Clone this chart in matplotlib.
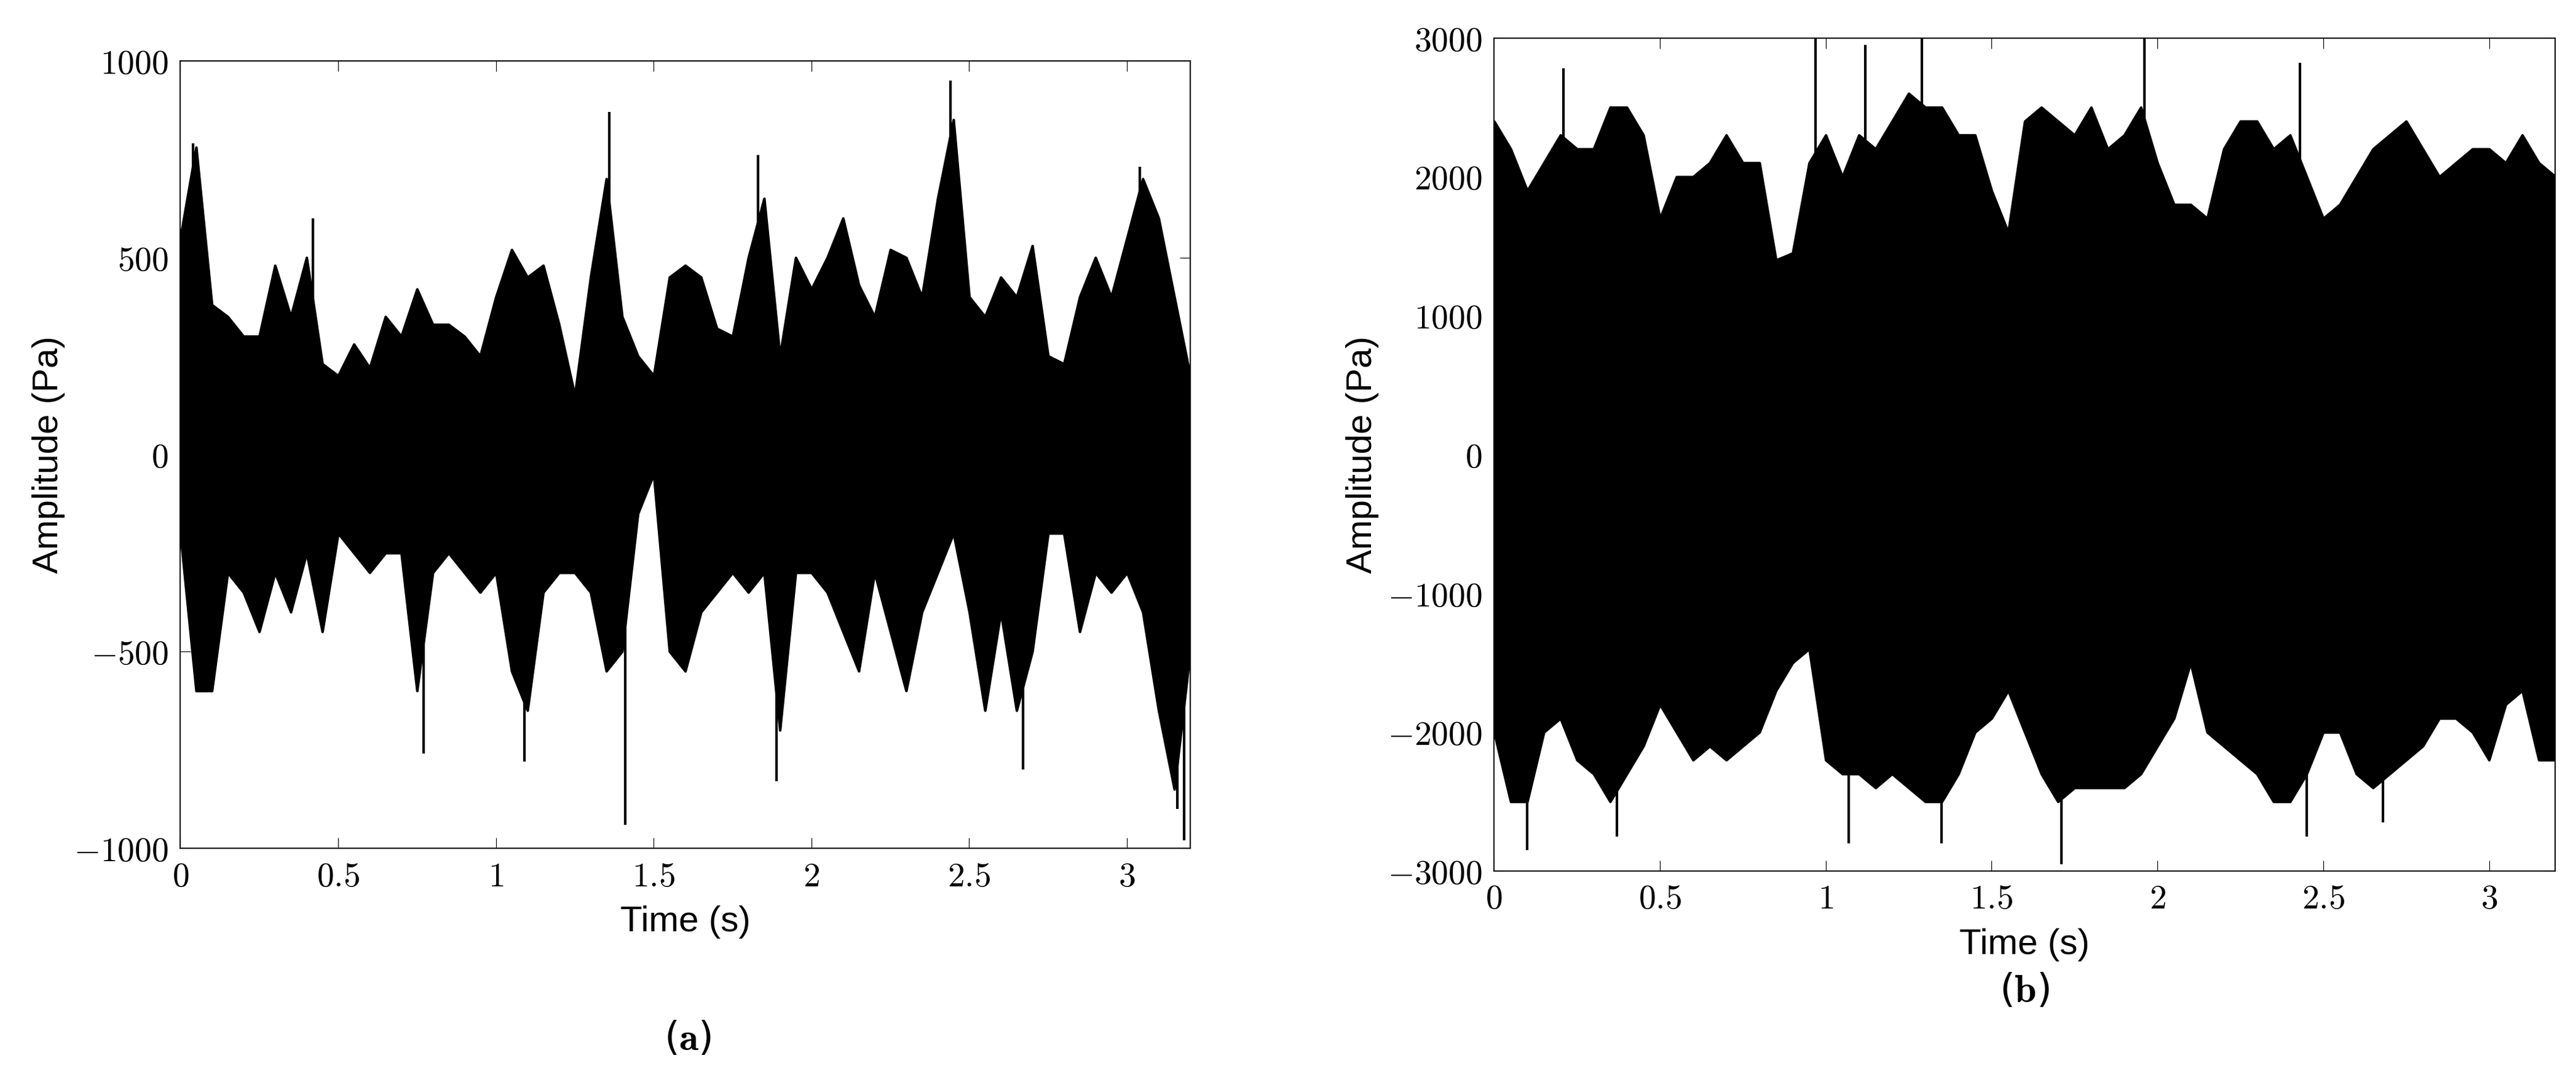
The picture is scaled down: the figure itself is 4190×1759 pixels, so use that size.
import numpy as np
import matplotlib
matplotlib.use("Agg")
import matplotlib.pyplot as plt

plt.rcParams["mathtext.fontset"] = "cm"

# envelope samples every 0.05 s
t = np.arange(0, 3.2001, 0.05)

a_upper = [550, 780, 380, 350, 300, 300, 480, 350, 500, 230, 200, 280, 220, 350, 300, 420,
           330, 330, 300, 250, 400, 520, 450, 480, 330, 150, 450, 700, 350, 250, 200, 450,
           480, 450, 320, 300, 500, 650, 250, 500, 420, 500, 600, 430, 350, 520, 500, 400,
           650, 850, 400, 350, 450, 400, 530, 250, 230, 400, 500, 400, 550, 700, 600, 400, 200]
a_lower = [-200, -600, -600, -300, -350, -450, -300, -400, -250, -450, -200, -250, -300, -250,
           -250, -600, -300, -250, -300, -350, -300, -550, -650, -350, -300, -300, -350, -550,
           -500, -150, -50, -500, -550, -400, -350, -300, -350, -300, -700, -300, -300, -350,
           -450, -550, -300, -450, -600, -400, -300, -200, -400, -650, -400, -650, -500, -200,
           -200, -450, -300, -350, -300, -400, -650, -850, -500]
a_spike_t = [0.04, 0.42, 1.36, 1.83, 2.44, 3.04, 0.77, 1.09, 1.41, 1.89, 2.67, 3.16, 3.18]
a_spike_v = [790, 600, 870, 760, 950, 730, -760, -780, -940, -830, -800, -900, -980]

b_upper = [2400, 2200, 1900, 2100, 2300, 2200, 2200, 2500, 2500, 2300, 1700, 2000, 2000, 2100,
           2300, 2100, 2100, 1400, 1450, 2100, 2300, 2000, 2300, 2200, 2400, 2600, 2500, 2500,
           2300, 2300, 1900, 1600, 2400, 2500, 2400, 2300, 2500, 2200, 2300, 2500, 2100, 1800,
           1800, 1700, 2200, 2400, 2400, 2200, 2300, 2000, 1700, 1800, 2000, 2200, 2300, 2400,
           2200, 2000, 2100, 2200, 2200, 2100, 2300, 2100, 2000]
b_lower = [-2000, -2500, -2500, -2000, -1900, -2200, -2300, -2500, -2300, -2100, -1800, -2000,
           -2200, -2100, -2200, -2100, -2000, -1700, -1500, -1400, -2200, -2300, -2300, -2400,
           -2300, -2400, -2500, -2500, -2300, -2000, -1900, -1700, -2000, -2300, -2500, -2400,
           -2400, -2400, -2400, -2300, -2100, -1900, -1500, -2000, -2100, -2200, -2300, -2500,
           -2500, -2300, -2000, -2000, -2300, -2400, -2300, -2200, -2100, -1900, -1900, -2000,
           -2200, -1800, -1700, -2200, -2200]
b_spike_t = [0.97, 1.12, 1.29, 1.96, 0.21, 2.43, 0.10, 0.37, 1.07, 1.35, 1.71, 2.45, 2.68]
b_spike_v = [3000, 2950, 3000, 3000, 2780, 2820, -2850, -2750, -2800, -2800, -2950, -2750, -2650]

fig = plt.figure(figsize=(41.9, 17.59), dpi=100)
ax_a = fig.add_axes([0.070, 0.216, 0.392, 0.728])
ax_b = fig.add_axes([0.580, 0.195, 0.412, 0.770])


def draw(ax, up, lo, st, sv, ylim, yticks):
    ax.fill_between(t, lo, up, color="black", lw=3)
    base = [0] * len(st)
    ax.vlines(st, base, sv, color="black", lw=3)
    ax.set_xlim(0, 3.2)
    ax.set_ylim(*ylim)
    ax.set_xticks([0, 0.5, 1, 1.5, 2, 2.5, 3])
    ax.set_xticklabels(["$0$", "$0.5$", "$1$", "$1.5$", "$2$", "$2.5$", "$3$"])
    ax.set_yticks(yticks)
    ax.set_yticklabels(["$%d$" % v if v >= 0 else "$-%d$" % -v for v in yticks])
    ax.tick_params(direction="in", top=True, right=True, labelsize=40, length=12, pad=14)
    ax.set_xlabel("Time (s)", fontsize=42, family="Liberation Sans", labelpad=14)
    ax.set_ylabel("Amplitude (Pa)", fontsize=42, family="Liberation Sans", labelpad=10)
    for s in ax.spines.values():
        s.set_linewidth(1.5)


draw(ax_a, a_upper, a_lower, a_spike_t, a_spike_v, (-1000, 1000), [-1000, -500, 0, 500, 1000])
draw(ax_b, b_upper, b_lower, b_spike_t, b_spike_v, (-3000, 3000),
     [-3000, -2000, -1000, 0, 1000, 2000, 3000])

fig.text(0.267, 0.04, r"($\mathbf{a}$)", fontsize=46, ha="center", va="center")
fig.text(0.786, 0.084, r"($\mathbf{b}$)", fontsize=46, ha="center", va="center")

fig.savefig("out.png", dpi=100)
